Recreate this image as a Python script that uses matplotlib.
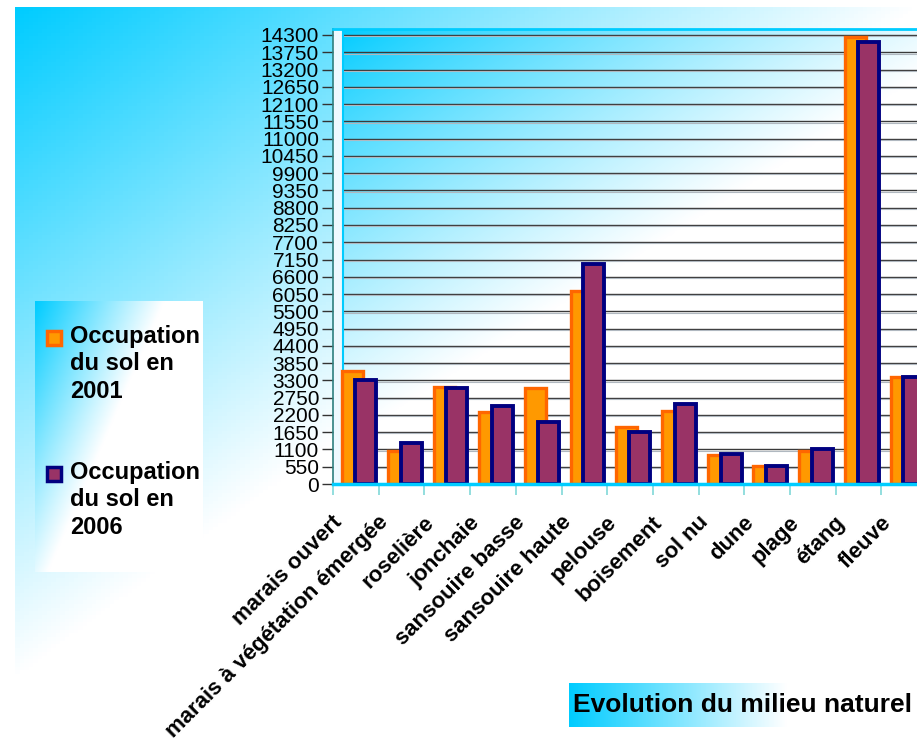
import numpy as np
import matplotlib
matplotlib.use("Agg")
import matplotlib.pyplot as plt
from matplotlib.patches import Rectangle
from matplotlib.transforms import ScaledTranslation

matplotlib.rcParams["font.family"] = ["Liberation Sans", "DejaVu Sans"]

categories = ["marais ouvert", "marais à végétation émergée", "roselière", "jonchaie",
              "sansouire basse", "sansouire haute", "pelouse", "boisement", "sol nu",
              "dune", "plage", "étang", "fleuve"]
occ_2001 = [3600, 1050, 3100, 2280, 3050, 6150, 1830, 2330, 910, 560, 1040, 14250, 3400]
occ_2006 = [3320, 1300, 3050, 2490, 1970, 7020, 1660, 2560, 960, 580, 1110, 14070, 3400]
yticks = np.arange(0, 14301, 550)
series_names = ["Occupation\ndu sol en\n2001", "Occupation\ndu sol en\n2006"]
title = "Evolution du milieu naturel"

W, H = 917, 744
cyan = np.array([0.0, 0.80, 1.0])
white = np.array([1.0, 1.0, 1.0])


def gradient(nx, ny, fx, fy, power=1.0):
    xs = np.linspace(0, 1, nx)[None, :]
    ys = np.linspace(0, 1, ny)[:, None]
    t = np.clip(fx * xs + fy * ys, 0, 1) ** power
    return cyan[None, None, :] * (1 - t[..., None]) + white[None, None, :] * t[..., None]


def fig_axes(x0, y0, x1, y1):
    # pixel box (top-left origin) -> figure axes
    return fig.add_axes([x0 / W, 1 - y1 / H, (x1 - x0) / W, (y1 - y0) / H])


fig = plt.figure(figsize=(W / 100, H / 100), dpi=100)
fig.patch.set_facecolor("white")

# outer background
bg = fig_axes(15, 7, W, H)
bg.imshow(gradient(200, 200, 1.0, 1.1), aspect="auto", extent=[0, 1, 0, 1])
bg.set_axis_off()

# main chart
ymax = 14300 * 455 / 449
ax = fig_axes(333, 29, 333 + 13 * 45.7, 484)
ax.set_facecolor("#eef9ff")
ax.imshow(gradient(300, 300, 0.9, 1.1, 0.85), aspect="auto",
          extent=[0.22, 13, 0, ymax], zorder=0)
ax.set_xlim(0, 13)
ax.set_ylim(0, ymax)

ax.hlines(yticks, 0.22, 13, colors="#3a3a3a", linewidth=1.0, zorder=1)
ax.hlines(yticks - 40, 0.22, 13, colors="#b0b8c0", linewidth=0.8, zorder=1)
ax.axvline(0.22, color="#00ccff", linewidth=1.5, zorder=2)

x = np.arange(len(categories))
ax.bar(x + 0.20, occ_2001, width=0.46, align="edge", color="#FF9900",
       edgecolor="#FF6600", linewidth=2.4, zorder=3)
ax.bar(x + 0.48, occ_2006, width=0.46, align="edge", color="#993366",
       edgecolor="#000080", linewidth=2.8, zorder=4)

ax.spines["right"].set_visible(False)
ax.spines["top"].set_color("#00ccff")
ax.spines["top"].set_linewidth(2)
ax.spines["bottom"].set_color("#00ccff")
ax.spines["bottom"].set_linewidth(2.5)
ax.spines["bottom"].set_zorder(5)
ax.spines["left"].set_color("#2f7f7f")
ax.spines["left"].set_linewidth(1.2)

ax.set_yticks(yticks)
ax.set_yticklabels([str(v) for v in yticks], fontsize=15)
ax.tick_params(axis="y", length=8, width=1, color="#333333", pad=2)
ax.set_xticks(np.arange(14))
ax.set_xticklabels([])
ax.tick_params(axis="x", length=8, width=1.2, color="#80d8d8")

off = ScaledTranslation(-0.24, -0.28, fig.dpi_scale_trans)
for i, name in enumerate(categories):
    ax.text(i + 0.5, 0, name, transform=ax.transData + off, rotation=45,
            rotation_mode="anchor", ha="right", va="top", fontsize=16,
            fontweight="bold", clip_on=False)

# legend box
lg = fig_axes(35, 301, 202, 572)
lg.imshow(gradient(200, 200, 1.3, 0.9), aspect="auto", extent=[0, 1, 0, 1])
lg.set_axis_off()
for (my, face, edge), name in zip([(329, "#FF9900", "#FF6600"), (465, "#993366", "#000080")],
                                  series_names):
    fig.patches.append(Rectangle((47 / W, 1 - (my + 16) / H), 14 / W, 14 / H,
                                 transform=fig.transFigure, facecolor=face,
                                 edgecolor=edge, linewidth=2.5))
    fig.text(70 / W, 1 - (my - 4) / H, name, ha="left", va="top", fontsize=17,
             fontweight="bold", linespacing=1.25)

# title box
tb = fig_axes(569, 683, W, 727)
tb.imshow(gradient(200, 50, 1.6, 0.0), aspect="auto", extent=[0, 1, 0, 1])
tb.set_axis_off()
fig.text(573 / W, 1 - 705 / H, title, ha="left", va="center", fontsize=19,
         fontweight="bold")

fig.savefig("out.png", dpi=100)
